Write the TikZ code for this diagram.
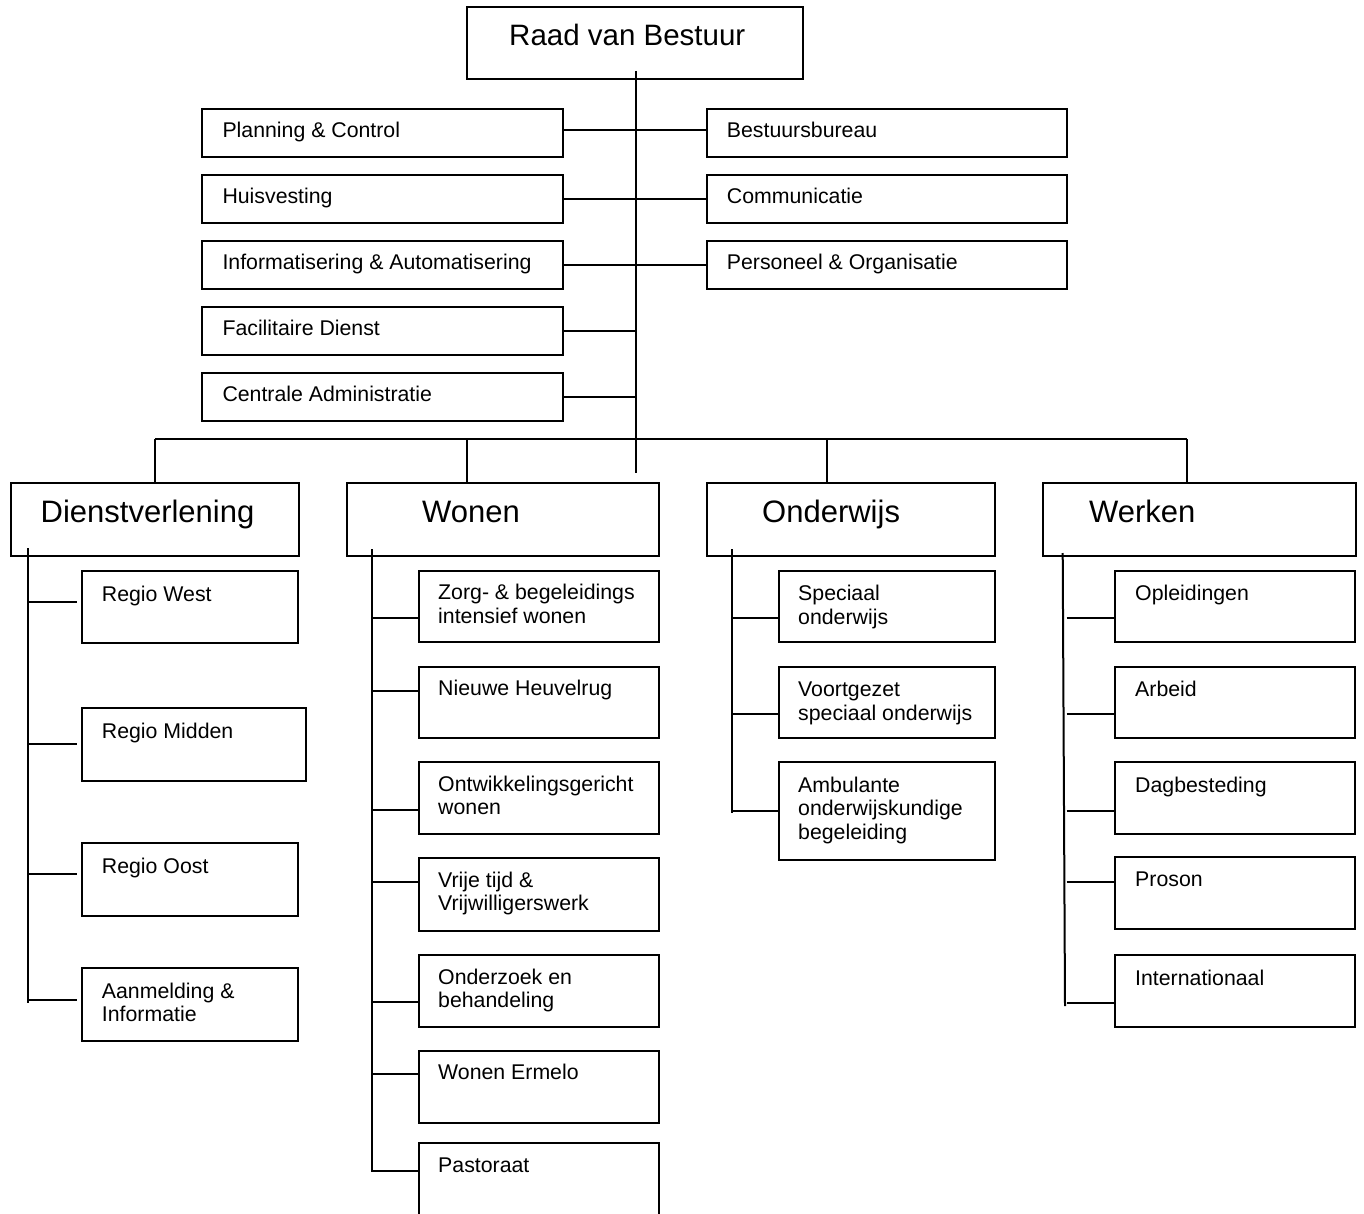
\documentclass[tikz,border=0pt]{standalone}
\usepackage{fontspec}
\setmainfont{Liberation Sans}
\usetikzlibrary{calc}
\tikzset{
  box/.style={draw, line width=2pt, inner sep=0pt, rectangle},
  conn/.style={line width=2pt},
  lbl/.style={inner sep=0pt, anchor=base west, align=left, font=\fontsize{21.3}{23.5}\selectfont},
  head/.style={inner sep=0pt, anchor=base west, font=\fontsize{31}{36}\selectfont},
  top/.style={inner sep=0pt, anchor=base west, font=\fontsize{29.5}{34}\selectfont}
}
\newcommand{\orgbox}[5]{\node[box, minimum width={(#4-#2)*1pt}, minimum height={(#5-#3)*1pt}] (#1) at ({(#2+#4)/2},{(#3+#5)/2}) {};}
\begin{document}
\begin{tikzpicture}[x=1pt,y=-1pt]
\useasboundingbox (0,0) rectangle (1364,1214);
\begin{scope}
\clip (0,0) rectangle (1364,1214);
% top
\orgbox{rvb}{466.7}{7.3}{803}{79.5}
\node[top] (t-rvb) at ($(rvb.north west)+(43.3,39.4)$) {Raad van Bestuur};
% staff left
\orgbox{pc}{202.3}{109}{563}{157}
\orgbox{hv}{202.3}{175}{563}{223}
\orgbox{ia}{202.3}{241}{563}{289}
\orgbox{fd}{202.3}{306.7}{563}{354.7}
\orgbox{ca}{202.3}{372.7}{563}{420.7}
% staff right
\orgbox{bb}{706.7}{109}{1067}{157}
\orgbox{co}{706.7}{175}{1067}{223}
\orgbox{po}{706.7}{241}{1067}{289}
\node[lbl] (t-pc) at ($(pc.north west)+(21,30)$) {Planning \& Control};
\node[lbl] (t-hv) at ($(hv.north west)+(21,30)$) {Huisvesting};
\node[lbl] (t-ia) at ($(ia.north west)+(21,30)$) {Informatisering \& Automatisering};
\node[lbl] (t-fd) at ($(fd.north west)+(21,30)$) {Facilitaire Dienst};
\node[lbl] (t-ca) at ($(ca.north west)+(21,30)$) {Centrale Administratie};
\node[lbl] (t-bb) at ($(bb.north west)+(21,30)$) {Bestuursbureau};
\node[lbl] (t-co) at ($(co.north west)+(21,30)$) {Communicatie};
\node[lbl] (t-po) at ($(po.north west)+(21,30)$) {Personeel \& Organisatie};
% trunk
\coordinate (trtop) at (636,71);
\coordinate (trbot) at (636,473);
\draw[conn] (trtop) -- (trbot);
\draw[conn] ([yshift=3pt]pc.east) -- ([yshift=3pt]bb.west);
\draw[conn] (hv.east) -- (co.west);
\draw[conn] (ia.east) -- (po.west);
\draw[conn] (fd.east) -- (fd.east -| trtop);
\draw[conn] (ca.east) -- (ca.east -| trtop);
% divisions
\orgbox{dv}{10.7}{483.3}{299}{555.5}
\orgbox{wo}{347}{483.3}{659}{555.5}
\orgbox{ow}{707}{483.3}{995}{555.5}
\orgbox{wk}{1043}{483.3}{1356}{555.5}
\node[head] (t-dv) at ($(dv.north west)+(30.8,40.5)$) {Dienstverlening};
\node[head] (t-wo) at ($(wo.north west)+(76,40.5)$) {Wonen};
\node[head] (t-ow) at ($(ow.north west)+(56,40.5)$) {Onderwijs};
\node[head] (t-wk) at ($(wk.north west)+(47,40.5)$) {Werken};
\coordinate (busL) at (155,439);
\coordinate (busR) at (1187,439);
\coordinate (busW) at (467,439);
\coordinate (busO) at (827,439);
\draw[conn] (busL) -- (busR);
\draw[conn] (busL) -- (busL |- dv.north);
\draw[conn] (busW) -- (busW |- wo.north);
\draw[conn] (busO) -- (busO |- ow.north);
\draw[conn] (busR) -- (busR |- wk.north);
% Dienstverlening
\orgbox{rw}{81.7}{571}{298}{643}
\orgbox{rm}{81.7}{708}{306}{780.7}
\orgbox{ro}{81.7}{843}{298}{915.7}
\orgbox{ai}{81.7}{968}{298}{1040.7}
\node[lbl] (t-rw) at ($(rw.north west)+(21,31)$) {Regio West};
\node[lbl] (t-rm) at ($(rm.north west)+(21,31)$) {Regio Midden};
\node[lbl] (t-ro) at ($(ro.north west)+(21,31)$) {Regio Oost};
\node[lbl] (t-ai) at ($(ai.north west)+(21,54.5)$) {Aanmelding \&\\Informatie};
\coordinate (dvl1) at (28.3,548);
\coordinate (dvl2) at (28.3,1002.7);
\draw[conn] (dvl1) -- (dvl2);
\coordinate (dvx) at (77,0);
\draw[conn] (dvl1 |- 0,602) -- (dvx |- 0,602);
\draw[conn] (dvl1 |- 0,744) -- (dvx |- 0,744);
\draw[conn] (dvl1 |- 0,874) -- (dvx |- 0,874);
\draw[conn] (dvl1 |- 0,1000) -- (dvx |- 0,1000);
% Wonen
\orgbox{zb}{419}{570.7}{659}{642}
\orgbox{nh}{419}{666.7}{659}{738}
\orgbox{og}{419}{762}{659}{834}
\orgbox{vt}{419}{858}{659}{930.7}
\orgbox{ob}{419}{955}{659}{1026.7}
\orgbox{we}{419}{1050.7}{659}{1122.7}
\orgbox{pa}{419}{1143}{659}{1260}
\node[lbl] (t-zb) at ($(zb.north west)+(20,53.5)$) {Zorg- \& begeleidings\\intensief wonen};
\node[lbl] (t-nh) at ($(nh.north west)+(20,30)$) {Nieuwe Heuvelrug};
\node[lbl] (t-og) at ($(og.north west)+(20,53.5)$) {Ontwikkelingsgericht\\wonen};
\node[lbl] (t-vt) at ($(vt.north west)+(20,53.5)$) {Vrije tijd \&\\Vrijwilligerswerk};
\node[lbl] (t-ob) at ($(ob.north west)+(20,53.5)$) {Onderzoek en\\behandeling};
\node[lbl] (t-we) at ($(we.north west)+(20,30)$) {Wonen Ermelo};
\node[lbl] (t-pa) at ($(pa.north west)+(20,30)$) {Pastoraat};
\coordinate (wol1) at (371.7,549);
\coordinate (wol2) at (371.7,1170.7);
\draw[conn] (wol1) -- (wol2) -- (pa.west |- wol2);
\draw[conn] (wol1 |- 0,618) -- (zb.west |- 0,618);
\draw[conn] (wol1 |- 0,690.7) -- (nh.west |- 0,690.7);
\draw[conn] (wol1 |- 0,810) -- (og.west |- 0,810);
\draw[conn] (wol1 |- 0,882) -- (vt.west |- 0,882);
\draw[conn] (wol1 |- 0,1002) -- (ob.west |- 0,1002);
\draw[conn] (wol1 |- 0,1074) -- (we.west |- 0,1074);
% Onderwijs
\orgbox{so}{779}{570.7}{995}{642}
\orgbox{vs}{779}{666.7}{995}{738}
\orgbox{ab}{779}{762}{995}{860}
\node[lbl] (t-so) at ($(so.north west)+(20,54.5)$) {Speciaal\\onderwijs};
\node[lbl] (t-vs) at ($(vs.north west)+(20,54.5)$) {Voortgezet\\speciaal onderwijs};
\node[lbl] (t-ab) at ($(ab.north west)+(20,78)$) {Ambulante\\onderwijskundige\\begeleiding};
\coordinate (owl1) at (731.7,549);
\coordinate (owl2) at (731.7,813);
\draw[conn] (owl1) -- (owl2);
\draw[conn] (owl1 |- 0,618) -- (so.west |- 0,618);
\draw[conn] (owl1 |- 0,714) -- (vs.west |- 0,714);
\draw[conn] (owl1 |- 0,810.7) -- (ab.west |- 0,810.7);
% Werken
\orgbox{op}{1115}{570.7}{1355}{642}
\orgbox{ar}{1115}{666.7}{1355}{738}
\orgbox{db}{1115}{762}{1355}{834}
\orgbox{pr}{1115}{856.7}{1355}{929}
\orgbox{in}{1115}{955}{1355}{1026.7}
\node[lbl] (t-op) at ($(op.north west)+(21,31)$) {Opleidingen};
\node[lbl] (t-ar) at ($(ar.north west)+(21,31)$) {Arbeid};
\node[lbl] (t-db) at ($(db.north west)+(21,31)$) {Dagbesteding};
\node[lbl] (t-pr) at ($(pr.north west)+(21,31)$) {Proson};
\node[lbl] (t-in) at ($(in.north west)+(21,31)$) {Internationaal};
\coordinate (wkl1) at (1062.7,553);
\coordinate (wkl2) at (1065,1006);
\draw[conn] (wkl1) -- (wkl2);
\coordinate (wkx) at (1066.7,0);
\draw[conn] (wkx |- 0,618) -- (op.west |- 0,618);
\draw[conn] (wkx |- 0,714) -- (ar.west |- 0,714);
\draw[conn] (wkx |- 0,810.7) -- (db.west |- 0,810.7);
\draw[conn] (wkx |- 0,882) -- (pr.west |- 0,882);
\draw[conn] (wkx |- 0,1002.7) -- (in.west |- 0,1002.7);
\end{scope}
\end{tikzpicture}
\end{document}
